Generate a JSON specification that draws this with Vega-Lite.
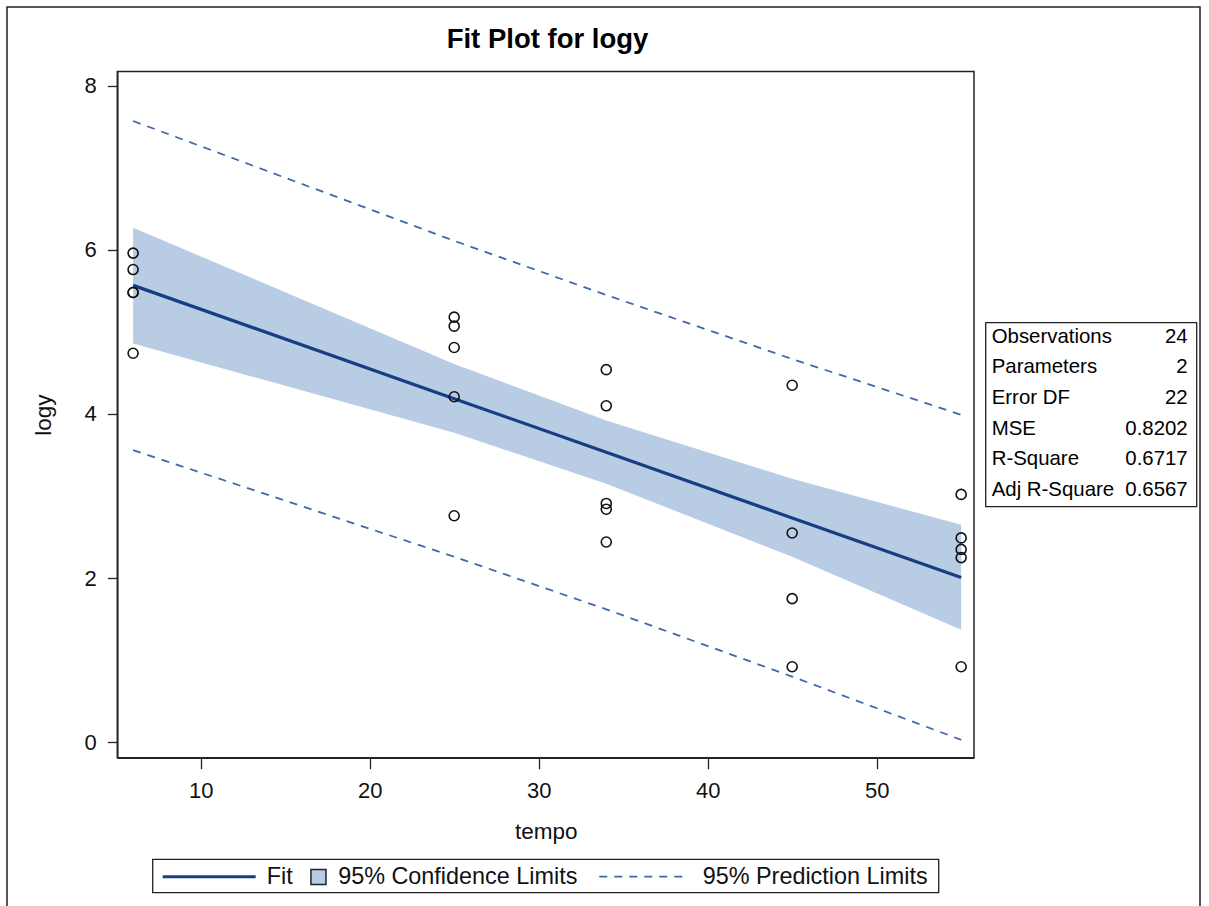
{
  "$schema": "https://vega.github.io/schema/vega-lite/v6.json",
  "width": 1193,
  "height": 905,
  "autosize": {"type": "none"},
  "padding": {"left": 7, "top": 7, "right": 9, "bottom": -6},
  "background": "white",
  "title": {
    "text": "Fit Plot for logy",
    "frame": "group",
    "anchor": "middle",
    "orient": "top",
    "offset": -68.4,
    "baseline": "alphabetic",
    "dx": -56,
    "font": "Liberation Sans",
    "fontSize": 27.5,
    "fontWeight": "bold",
    "color": "#000000"
  },
  "config": {
    "font": "Liberation Sans",
    "view": {"stroke": "#222222", "strokeWidth": 1.5}
  },
  "datasets": {
    "observations": [
      {"tempo": 6, "logy": 5.96}, {"tempo": 6, "logy": 5.76}, {"tempo": 6, "logy": 5.48}, {"tempo": 6, "logy": 5.48}, {"tempo": 6, "logy": 4.74},
      {"tempo": 25, "logy": 5.18}, {"tempo": 25, "logy": 5.07}, {"tempo": 25, "logy": 4.81}, {"tempo": 25, "logy": 4.21}, {"tempo": 25, "logy": 2.76},
      {"tempo": 34, "logy": 4.54}, {"tempo": 34, "logy": 4.10}, {"tempo": 34, "logy": 2.91}, {"tempo": 34, "logy": 2.84}, {"tempo": 34, "logy": 2.44},
      {"tempo": 45, "logy": 4.35}, {"tempo": 45, "logy": 2.55}, {"tempo": 45, "logy": 1.75}, {"tempo": 45, "logy": 0.92},
      {"tempo": 55, "logy": 3.02}, {"tempo": 55, "logy": 2.49}, {"tempo": 55, "logy": 2.35}, {"tempo": 55, "logy": 2.25}, {"tempo": 55, "logy": 0.92}
    ],
    "fitted": [
      {"tempo": 6, "fit": 5.567}, {"tempo": 25, "fit": 4.187}, {"tempo": 34, "fit": 3.533}, {"tempo": 45, "fit": 2.734}, {"tempo": 55, "fit": 2.008}
    ],
    "confidence": [
      {"tempo": 6, "lcl": 4.86, "ucl": 6.27},
      {"tempo": 25, "lcl": 3.77, "ucl": 4.61},
      {"tempo": 34, "lcl": 3.15, "ucl": 3.92},
      {"tempo": 45, "lcl": 2.26, "ucl": 3.21},
      {"tempo": 55, "lcl": 1.37, "ucl": 2.65}
    ],
    "prediction": [
      {"tempo": 6, "limit": "upper", "value": 7.57},
      {"tempo": 25, "limit": "upper", "value": 6.11},
      {"tempo": 34, "limit": "upper", "value": 5.45},
      {"tempo": 45, "limit": "upper", "value": 4.67},
      {"tempo": 55, "limit": "upper", "value": 3.99},
      {"tempo": 6, "limit": "lower", "value": 3.56},
      {"tempo": 25, "limit": "lower", "value": 2.26},
      {"tempo": 34, "limit": "lower", "value": 1.62},
      {"tempo": 45, "limit": "lower", "value": 0.80},
      {"tempo": 55, "limit": "lower", "value": 0.03}
    ],
    "fitStatistics": [
      {"stat": "Observations", "value": "24"},
      {"stat": "Parameters", "value": "2"},
      {"stat": "Error DF", "value": "22"},
      {"stat": "MSE", "value": "0.8202"},
      {"stat": "R-Square", "value": "0.6717"},
      {"stat": "Adj R-Square", "value": "0.6567"}
    ]
  },
  "layer": [
    {
      "layer": [
        {
          "data": {"name": "confidence"},
          "mark": {"type": "area", "opacity": 1},
          "encoding": {
            "x": {
              "field": "tempo", "type": "quantitative",
              "scale": {"domain": [5.065, 55.76], "range": [110.3, 967], "nice": false, "zero": false},
              "axis": {
                "title": "tempo", "values": [10, 20, 30, 40, 50], "format": "d", "offset": -154.3, "grid": false,
                "tickSize": 11, "tickWidth": 1.3, "tickColor": "#222222",
                "domainColor": "#222222", "domainWidth": 1.5,
                "labelFontSize": 22, "labelColor": "#111111", "labelPadding": 12,
                "labelFlush": false, "labelOverlap": false,
                "titleFontSize": 22.5, "titleFontWeight": "normal", "titleColor": "#111111", "titlePadding": 19
              }
            },
            "y": {
              "field": "lcl", "type": "quantitative",
              "scale": {"domain": [-0.188, 8.173], "range": [750.7, 64.5], "nice": false, "zero": false},
              "axis": {
                "title": "logy", "values": [0, 2, 4, 6, 8], "format": "d", "offset": -110.3, "grid": false,
                "tickSize": 10, "tickWidth": 1.3, "tickColor": "#222222",
                "domainColor": "#222222", "domainWidth": 1.5,
                "labelFontSize": 22, "labelColor": "#111111", "labelPadding": 11,
                "labelFlush": false, "labelOverlap": false,
                "titleFontSize": 22.5, "titleFontWeight": "normal", "titleColor": "#111111", "titlePadding": 29
              }
            },
            "y2": {"field": "ucl"},
            "fill": {
              "datum": "95% Confidence Limits", "type": "nominal",
              "scale": {"range": ["#b8cce4"]},
              "legend": {
                "orient": "none", "legendX": 299.75, "legendY": 858.3, "title": null, "padding": 0,
                "symbolType": "square", "symbolSize": 225, "symbolStrokeWidth": 1.5,
                "symbolStrokeColor": "#222222", "symbolFillColor": "#b8cce4", "symbolOpacity": 1,
                "labelFontSize": 23.4, "labelColor": "#111111", "labelLimit": 0, "labelOffset": 8,
                "encode": {"symbols": {"update": {"stroke": {"value": "#222222"}, "strokeWidth": {"value": 1.5}, "fill": {"value": "#b8cce4"}}}}
              }
            }
          }
        },
        {
          "data": {"name": "prediction"},
          "mark": {"type": "line", "color": "#4169a9", "strokeWidth": 1.8},
          "encoding": {
            "x": {"field": "tempo", "type": "quantitative"},
            "y": {"field": "value", "type": "quantitative"},
            "detail": {"field": "limit"},
            "strokeDash": {
              "datum": "95% Prediction Limits", "type": "nominal",
              "scale": {"range": [[8, 7]]},
              "legend": {
                "orient": "none", "legendX": 591.15, "legendY": 826.2, "title": null, "padding": 0,
                "symbolType": "stroke", "symbolSize": 7174, "symbolStrokeWidth": 1.8,
                "symbolStrokeColor": "#4169a9",
                "labelFontSize": 23.4, "labelColor": "#111111", "labelLimit": 0, "labelOffset": 17.55,
                "encode": {"symbols": {"update": {"stroke": {"value": "#4169a9"}, "strokeWidth": {"value": 1.8}}}}
              }
            }
          }
        },
        {
          "data": {"name": "fitted"},
          "mark": {"type": "line", "strokeWidth": 3.2},
          "encoding": {
            "x": {"field": "tempo", "type": "quantitative"},
            "y": {"field": "fit", "type": "quantitative"},
            "stroke": {
              "datum": "Fit", "type": "nominal",
              "scale": {"range": ["#173d85"]},
              "legend": {
                "orient": "none", "legendX": 154.2, "legendY": 821.7, "title": null, "padding": 0,
                "symbolType": "stroke", "symbolSize": 8649, "symbolStrokeWidth": 3,
                "labelFontSize": 23.4, "labelColor": "#111111", "labelLimit": 0, "labelOffset": 9.5
              }
            }
          }
        },
        {
          "data": {"name": "observations"},
          "mark": {"type": "point", "shape": "circle", "filled": false, "stroke": "#111111", "strokeWidth": 1.6, "size": 100, "opacity": 1},
          "encoding": {
            "x": {"field": "tempo", "type": "quantitative"},
            "y": {"field": "logy", "type": "quantitative"}
          }
        },
        {
          "data": {"values": [{"frame": "plot area"}]},
          "mark": {"type": "rect", "filled": false, "stroke": "#222222", "strokeWidth": 1.5},
          "encoding": {
            "x": {"datum": 5.065, "type": "quantitative"},
            "x2": {"datum": 55.76},
            "y": {"datum": -0.188, "type": "quantitative"},
            "y2": {"datum": 8.173}
          }
        }
      ]
    },
    {
      "data": {"name": "fitStatistics"},
      "layer": [
        {
          "mark": {"type": "text", "align": "left", "baseline": "middle", "dx": 6, "dy": -1.3, "fontSize": 20.4, "color": "#000000"},
          "encoding": {
            "x": {"datum": 0, "type": "quantitative", "scale": {"domain": [0, 1], "range": [978.7, 1189.7]}, "axis": null},
            "y": {"field": "stat", "type": "nominal", "sort": null,
                  "scale": {"domain": ["Observations", "Parameters", "Error DF", "MSE", "R-Square", "Adj R-Square"], "range": [315.7, 499.7], "paddingInner": 0, "paddingOuter": 0},
                  "axis": null},
            "text": {"field": "stat"}
          }
        },
        {
          "mark": {"type": "text", "align": "right", "baseline": "middle", "dx": -9, "dy": -1.3, "fontSize": 20.4, "color": "#000000"},
          "encoding": {
            "x": {"datum": 1, "type": "quantitative"},
            "y": {"field": "stat", "type": "nominal", "sort": null},
            "text": {"field": "value"}
          }
        }
      ]
    },
    {
      "data": {"values": [{"frame": "fit statistics"}]},
      "mark": {"type": "rect", "filled": false, "stroke": "#222222", "strokeWidth": 1.3},
      "encoding": {
        "x": {"datum": 0, "type": "quantitative", "scale": {"domain": [0, 1], "range": [978.7, 1189.7]}, "axis": null},
        "x2": {"datum": 1},
        "y": {"datum": 0, "type": "quantitative", "scale": {"domain": [0, 1], "range": [315.7, 499.7]}, "axis": null},
        "y2": {"datum": 1}
      }
    },
    {
      "data": {"values": [{"frame": "legend"}]},
      "mark": {"type": "rect", "filled": false, "stroke": "#222222", "strokeWidth": 1.3},
      "encoding": {
        "x": {"datum": 0, "type": "quantitative", "scale": {"domain": [0, 1], "range": [145.7, 931.7]}, "axis": null},
        "x2": {"datum": 1},
        "y": {"datum": 0, "type": "quantitative", "scale": {"domain": [0, 1], "range": [852.3, 885.7]}, "axis": null},
        "y2": {"datum": 1}
      }
    }
  ],
  "resolve": {"scale": {"x": "independent", "y": "independent"}}
}
